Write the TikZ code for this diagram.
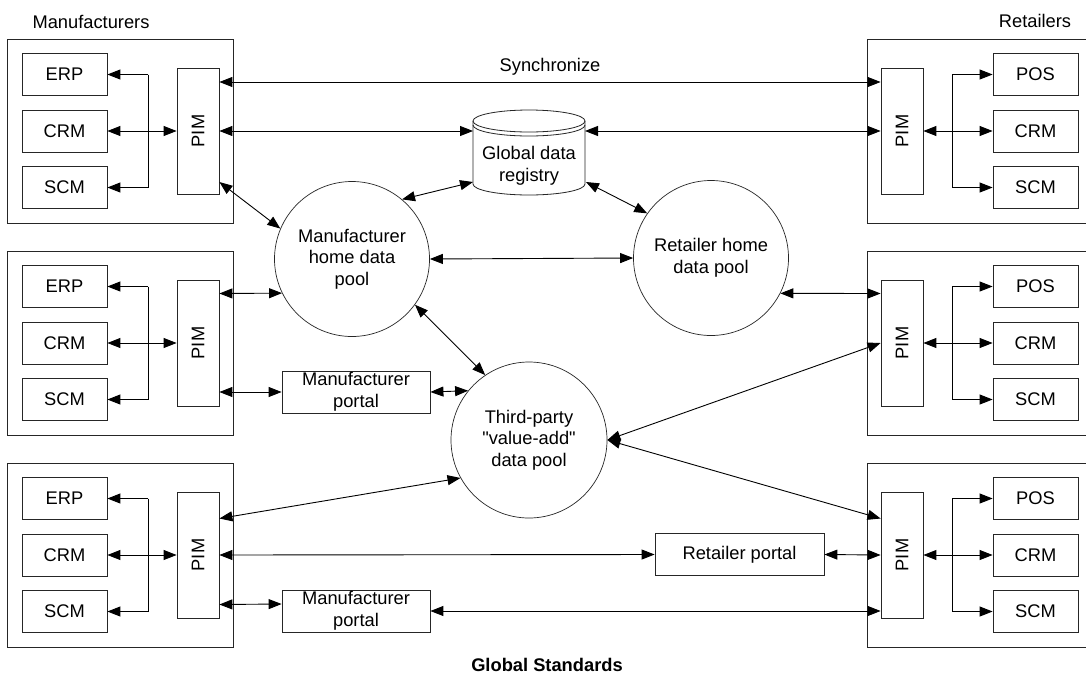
\documentclass[tikz,border=0pt]{standalone}
\usepackage{fontspec}
\setmainfont{Liberation Sans}
\newfontfamily\qfont{Liberation Sans}
\usetikzlibrary{arrows.meta,calc}
\newcommand{\fsz}{\fontsize{18.3}{21.5}\selectfont}
\newcommand{\sq}{{\qfont"}}
\tikzset{
  box/.style={draw=black!85, line width=0.8pt, minimum width=85pt, minimum height=42pt, inner sep=0pt},
  pimbox/.style={draw=black!85, line width=0.8pt, minimum width=42pt, minimum height=126pt, inner sep=0pt},
  grp/.style={draw=black!85, line width=0.8pt, inner sep=0pt},
  pool/.style={circle, draw=black!85, line width=0.7pt, minimum size=155pt, inner sep=0pt, align=center},
  portal/.style={draw=black!85, line width=0.8pt, minimum width=148pt, minimum height=42pt, inner sep=0pt, align=center},
  both/.style={line width=0.9pt, {Triangle[length=13pt,width=10pt]}-{Triangle[length=13pt,width=10pt]}},
  fwd/.style={line width=0.9pt, -{Triangle[length=13pt,width=10pt]}},
  plain/.style={line width=0.9pt}
}
% #1 = name prefix, #2 = top y
\newcommand{\mfrgroup}[2]{%
  \node[grp, minimum width=226pt, minimum height=184pt] (#1box) at (120,#2+92) {};
  \node[box] (#1erp) at (64.5,#2+35.5) {ERP};
  \node[box] (#1crm) at (64.5,#2+92) {CRM};
  \node[box] (#1scm) at (64.5,#2+148.5) {SCM};
  \node[pimbox] (#1pim) at (198,#2+92) {\rotatebox{90}{PIM}};
  \coordinate (#1bus) at (148,#2+92);
  \draw[plain] (#1bus |- #1erp.east) -- (#1bus |- #1scm.east);
  \draw[fwd] (#1bus |- #1erp.east) -- (#1erp.east);
  \draw[fwd] (#1bus |- #1scm.east) -- (#1scm.east);
  \draw[both] (#1crm.east) -- (#1pim.west);
}
\newcommand{\rtlgroup}[2]{%
  \node[grp, minimum width=233pt, minimum height=184pt] (#1box) at (983.5,#2+92) {};
  \node[box] (#1pos) at (1035.5,#2+35.5) {POS};
  \node[box] (#1crm) at (1035.5,#2+92) {CRM};
  \node[box] (#1scm) at (1035.5,#2+148.5) {SCM};
  \node[pimbox] (#1pim) at (902,#2+92) {\rotatebox{90}{PIM}};
  \coordinate (#1bus) at (952,#2+92);
  \draw[plain] (#1bus |- #1pos.west) -- (#1bus |- #1scm.west);
  \draw[fwd] (#1bus |- #1pos.west) -- (#1pos.west);
  \draw[fwd] (#1bus |- #1scm.west) -- (#1scm.west);
  \draw[both] (#1pim.east) -- (#1crm.west);
}
\begin{document}
\begin{tikzpicture}[x=1pt,y=-1pt,font=\fsz]
\clip (0,0) rectangle (1086,686);
\fill[white] (0,0) rectangle (1086,686);

% titles
\node (lblm) at (91,22) {Manufacturers};
\node (lblr) at (1035,21) {Retailers};
\node[font=\fsz\bfseries] (lblg) at (547,665) {Global Standards};

% groups
\mfrgroup{ma}{39}
\mfrgroup{mb}{251}
\mfrgroup{mc}{463}
\rtlgroup{ra}{39}
\rtlgroup{rb}{251}
\rtlgroup{rc}{463}

% global data registry (cylinder)
\draw[draw=black!85, line width=0.8pt, fill=white]
  (473,121) -- (473,184)
  .. controls (473,190.1) and (498.1,195) .. (529,195)
  .. controls (559.9,195) and (585,190.1) .. (585,184)
  -- (585,121);
\draw[draw=black!85, line width=0.8pt] (529,121) ellipse [x radius=56pt, y radius=11pt];
\draw[draw=black!85, line width=0.8pt]
  (473,125) .. controls (473,131.1) and (498.1,136) .. (529,136)
  .. controls (559.9,136) and (585,131.1) .. (585,125);
\node[align=center, inner sep=0pt] (gdr) at (529,166) {Global data\\registry};
\coordinate (gdrL) at (473,131);
\coordinate (gdrR) at (585,131);
\coordinate (gdrLL) at (473,182);
\coordinate (gdrLR) at (586,182);

% pools
\node[pool] (mpool) at (352,259) {Manufacturer\\home data\\pool};
\node[pool] (rpool) at (711,258) {Retailer home\\data pool};
\node[pool, minimum size=156pt] (tpool) at (529,440) {Third-party\\\sq value-add\sq\\data pool};

% portals
\node[portal] (mport1) at (356,392) {Manufacturer\\portal};
\node[portal] (mport2) at (356,611) {Manufacturer\\portal};
\node[portal, minimum width=169pt] (rport) at (739.5,554.5) {Retailer portal};

% top connectors
\draw[both] ($(mapim.east)+(0,-49)$) -- node[midway, above=3pt] (synclbl) {Synchronize} ($(rapim.west)+(0,-49)$);
\draw[both] (mapim.east) -- (gdrL);
\draw[both] (gdrR) -- (rapim.west);
\draw[both] ($(mapim.east)+(0,51)$) -- (mpool.157);
\draw[both] (gdrLL) -- (mpool.50);
\draw[both] (gdrLR) -- (rpool.145);
\draw[both] (mpool.east) -- (rpool.west);

% middle connectors
\draw[both] ($(mbpim.east)+(0,-49.5)$) -- (mpool.206);
\draw[both] (mpool.-36) -- (tpool.124);
\draw[both] (mbpim.east |- mport1.west) -- (mport1.west);
\draw[both] (mport1.east) -- (tpool.141);
\draw[both] (rpool.-27) -- ($(rbpim.west)+(0,-49.5)$);
\draw[both] (tpool.east) -- (rbpim.west);

% bottom connectors
\draw[both] ($(mcpim.east)+(0,-36.5)$) -- (tpool.209.5);
\draw[both] (tpool.east) -- ($(rcpim.west)+(0,-36.5)$);
\draw[both] (mcpim.east) -- (rport.west);
\draw[both] (rport.east) -- (rcpim.west);
\draw[both] ($(mcpim.east)+(0,49.5)$) -- ($(mport2.west)+(0,-7)$);
\draw[both] (mport2.east) -- (rcpim.west |- mport2.east);
\end{tikzpicture}
\end{document}
